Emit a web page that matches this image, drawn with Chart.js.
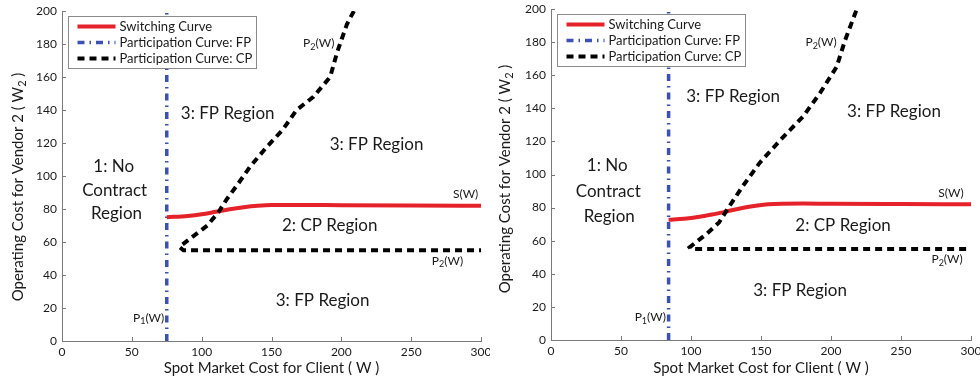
<!DOCTYPE html>
<html><head><meta charset="utf-8">
<script src="https://cdn.jsdelivr.net/npm/chart.js@4.4.0/dist/chart.umd.min.js"></script>
<style>
html,body{margin:0;padding:0;background:#fff;}
#wrap{width:980px;height:383px;position:relative;overflow:hidden;}
.panel{position:absolute;top:0;width:490px;height:383px;}
</style></head><body>
<div id="wrap">
<div class="panel" style="left:0"><canvas id="c1" width="490" height="383"></canvas></div>
<div class="panel" style="left:490px"><canvas id="c2" width="490" height="383"></canvas></div>
</div>
<script>
// ---------- data ----------
const xTickValues = [0, 50, 100, 150, 200, 250, 300];
const yTickValues = [0, 20, 40, 60, 80, 100, 120, 140, 160, 180, 200];
const seriesNames = ['Switching Curve', 'Participation Curve: FP', 'Participation Curve: CP'];
const xTitleText = 'Spot Market Cost for Client ( W )';
const yTitleText = 'Operating Cost for Vendor 2 ( W_2 )';

// left panel
const L_switchX = [75, 90, 100, 110, 120, 130, 140, 150, 170, 200, 250, 300];
const L_switchY = [75, 75.8, 76.8, 78.3, 79.8, 81, 81.9, 82.4, 82.5, 82.3, 82.1, 82];
const L_fpX = [75, 75];
const L_fpY = [0, 200];
const L_cpX = [209, 204, 197, 192, 180, 168, 158, 147, 135, 125, 118, 112, 104, 84, 87, 300];
const L_cpY = [200, 192, 175, 160, 148, 140, 128, 118, 106, 94, 86, 78, 70, 57, 55, 55];

// right panel
const R_switchX = [84, 95, 105, 115, 125, 135, 145, 155, 165, 180, 200, 250, 300];
const R_switchY = [72.7, 73.3, 74.3, 75.8, 77.6, 79.5, 81, 82, 82.4, 82.5, 82.3, 82.1, 82];
const R_fpX = [84, 84];
const R_fpY = [0, 200];
const R_cpX = [218, 210, 204, 192, 180, 172, 164, 149, 137, 126, 120, 111, 99, 100, 300];
const R_cpY = [199, 181, 165, 149, 135, 128, 121, 107, 93, 79, 71, 64, 56, 55, 55];

// text annotations (text, x value, y value, kind)
const L_notes = [
  ['3: FP Region', 118.6, 137.6, 'big'],
  ['3: FP Region', 225.2, 118.8, 'big'],
  ['1: No', 37, 106, 'big'],
  ['Contract', 37.7, 91.5, 'big'],
  ['Region', 39, 77, 'big'],
  ['2: CP Region', 191.7, 69.7, 'big'],
  ['3: FP Region', 186.6, 24.8, 'big'],
  ['S(W)', 289, 89, 'small'],
  ['P_2(W)', 276, 48.5, 'small'],
  ['P_2(W)', 183.8, 180.6, 'small'],
  ['P_1(W)', 62, 14, 'small']
];
const R_notes = [
  ['3: FP Region', 130.1, 147.4, 'big'],
  ['3: FP Region', 245, 137.8, 'big'],
  ['1: No', 40.2, 105.7, 'big'],
  ['Contract', 40.9, 90, 'big'],
  ['Region', 41.6, 74.9, 'big'],
  ['2: CP Region', 208.6, 68.9, 'big'],
  ['3: FP Region', 177.9, 29.6, 'big'],
  ['S(W)', 285.7, 88.8, 'small'],
  ['P_2(W)', 282.9, 48.9, 'small'],
  ['P_2(W)', 192.9, 180, 'small'],
  ['P_1(W)', 70.9, 13.9, 'small']
];

// ---------- styling ----------
const FONT = 'Lato, "Open Sans", sans-serif';
const RED = '#e52229';
const BLUE = '#3b51b3';
const BLACK = '#000000';
const AXIS = '#7a7a7a';
const TXT = '#1a1a1a';

function zip(xs, ys) { return xs.map((x, i) => ({x: x, y: ys[i]})); }

function drawSubText(ctx, str, cx, cy, size) {
  const parts = [];
  let i = 0, buf = '';
  while (i < str.length) {
    if (str[i] === '_') { if (buf) parts.push([buf, false]); buf = ''; parts.push([str[i + 1], true]); i += 2; }
    else { buf += str[i]; i++; }
  }
  if (buf) parts.push([buf, false]);
  const big = size + 'px ' + FONT, small = Math.round(size * 0.72) + 'px ' + FONT;
  let total = 0;
  parts.forEach(p => { ctx.font = p[1] ? small : big; total += ctx.measureText(p[0]).width; });
  let x = cx - total / 2;
  ctx.textAlign = 'left';
  ctx.textBaseline = 'middle';
  parts.forEach(p => {
    ctx.font = p[1] ? small : big;
    ctx.fillText(p[0], x, p[1] ? cy + size * 0.3 : cy);
    x += ctx.measureText(p[0]).width;
  });
}

const decorPlugin = {
  id: 'decor',
  beforeDatasetsDraw(chart) {
    const {ctx, chartArea: a, scales: {x, y}} = chart;
    ctx.save();
    ctx.strokeStyle = AXIS;
    ctx.lineWidth = 1;
    ctx.beginPath();
    x.ticks.forEach(t => {
      const px = Math.round(x.getPixelForValue(t.value)) + 0.5;
      ctx.moveTo(px, a.bottom); ctx.lineTo(px, a.bottom - 4);
    });
    y.ticks.forEach(t => {
      const py = Math.round(y.getPixelForValue(t.value)) + 0.5;
      ctx.moveTo(a.left, py); ctx.lineTo(a.left + 4, py);
    });
    ctx.stroke();
    ctx.restore();
  },
  afterDatasetsDraw(chart, args, opts) {
    const {ctx, chartArea: a, scales: {x, y}} = chart;
    ctx.save();
    ctx.fillStyle = TXT;
    opts.notes.forEach(n => {
      const size = n[3] === 'big' ? 17 : 12;
      drawSubText(ctx, n[0], x.getPixelForValue(n[1]), y.getPixelForValue(n[2]), size);
    });
    ctx.save();
    ctx.translate(opts.yTitleX, opts.yTitleY);
    ctx.rotate(-Math.PI / 2);
    ctx.fillStyle = TXT;
    drawSubText(ctx, yTitleText, 0, 0, 15);
    ctx.restore();
    const bx = Math.round(a.left) + 6.5, by = Math.round(a.top) + 5.5, bw = 188, bh = 52;
    ctx.fillStyle = '#ffffff';
    ctx.fillRect(bx, by, bw, bh);
    ctx.strokeStyle = '#8a8a8a';
    ctx.lineWidth = 1;
    ctx.strokeRect(bx, by, bw, bh);
    chart.data.datasets.forEach((ds, i) => {
      const ry = by + 10 + i * 16;
      ctx.save();
      ctx.strokeStyle = ds.borderColor;
      ctx.lineWidth = ds.borderWidth;
      ctx.setLineDash(ds.borderDash || []);
      ctx.beginPath();
      ctx.moveTo(bx + 9, ry); ctx.lineTo(bx + 47, ry);
      ctx.stroke();
      ctx.restore();
      ctx.fillStyle = TXT;
      ctx.font = '13px ' + FONT;
      ctx.textAlign = 'left';
      ctx.textBaseline = 'middle';
      ctx.fillText(ds.label, bx + 51, ry);
    });
    ctx.restore();
  }
};

function makeChart(id, d) {
  return new Chart(document.getElementById(id), {
    type: 'scatter',
    data: {
      datasets: [
        {label: seriesNames[0], data: zip(d.swX, d.swY), showLine: true, borderColor: RED, backgroundColor: RED,
         borderWidth: 4, pointRadius: 0, cubicInterpolationMode: 'monotone', order: 1},
        {label: seriesNames[1], data: zip(d.fpX, d.fpY), showLine: true, borderColor: BLUE, backgroundColor: BLUE,
         borderWidth: 3.5, borderDash: [7, 5, 1.5, 5], pointRadius: 0, order: 2},
        {label: seriesNames[2], data: zip(d.cpX, d.cpY), showLine: true, borderColor: BLACK, backgroundColor: BLACK,
         borderWidth: 4, borderDash: [7, 5], pointRadius: 0, order: 0}
      ]
    },
    plugins: [decorPlugin],
    options: {
      responsive: false,
      animation: false,
      devicePixelRatio: 1,
      layout: {padding: {left: 0, right: 9, top: d.top, bottom: 0}},
      plugins: {
        legend: {display: false},
        tooltip: {enabled: false},
        decor: {notes: d.notes, yTitleX: d.yTitleX, yTitleY: d.yTitleY}
      },
      scales: {
        x: {
          type: 'linear', min: 0, max: 300,
          afterBuildTicks(s) { s.ticks = xTickValues.map(v => ({value: v})); },
          ticks: {padding: 4, color: TXT, font: {family: FONT, size: 12}, maxRotation: 0},
          grid: {display: false, drawTicks: false},
          border: {display: true, color: AXIS, width: 1},
          title: {display: true, text: xTitleText, color: TXT, font: {family: FONT, size: 15}, padding: {top: 0, bottom: 6}},
          afterFit(s) { s.height = d.xH; s.paddingLeft = 0; s.paddingRight = 0; }
        },
        y: {
          type: 'linear', min: 0, max: 200,
          afterBuildTicks(s) { s.ticks = yTickValues.map(v => ({value: v})); },
          ticks: {padding: 5, color: TXT, font: {family: FONT, size: 12}},
          grid: {display: false, drawTicks: false},
          border: {display: true, color: AXIS, width: 1},
          title: {display: false},
          afterFit(s) { s.width = d.yW; s.paddingTop = 0; s.paddingBottom = 0; }
        }
      }
    }
  });
}

makeChart('c1', {swX: L_switchX, swY: L_switchY, fpX: L_fpX, fpY: L_fpY, cpX: L_cpX, cpY: L_cpY,
  notes: L_notes, top: 11, xH: 42, yW: 62, yTitleX: 18, yTitleY: 187});
makeChart('c2', {swX: R_switchX, swY: R_switchY, fpX: R_fpX, fpY: R_fpY, cpX: R_cpX, cpY: R_cpY,
  notes: R_notes, top: 9, xH: 43, yW: 61, yTitleX: 15, yTitleY: 179});
</script>
</body></html>
